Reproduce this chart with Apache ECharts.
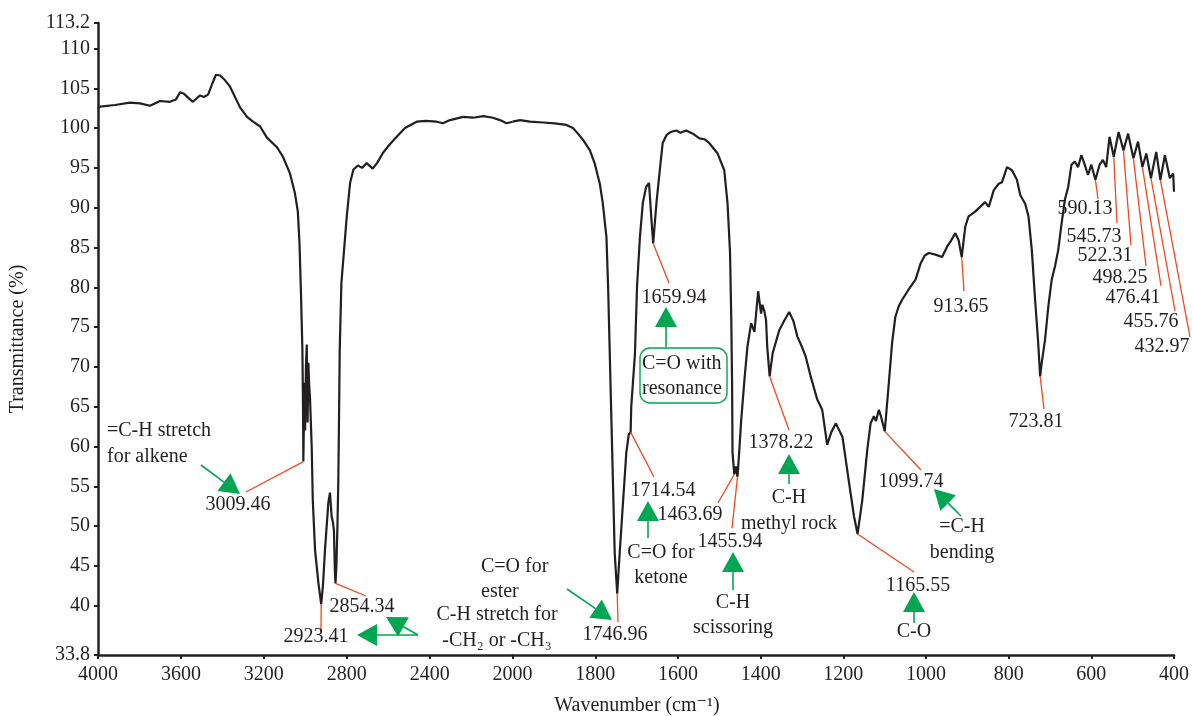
<!DOCTYPE html>
<html>
<head>
<meta charset="utf-8">
<script src="https://cdn.jsdelivr.net/npm/echarts@6/dist/echarts.min.js"></script>
<style>
html,body{margin:0;padding:0;background:#fff;}
#main{width:1192px;height:716px;}
</style>
</head>
<body>
<div id="main"></div>
<script>
// ---------------- DATA ----------------
const wavenumber = [
4000,3990,3918,3846,3797,3749,3701,3653,3624,3604,3585,3556,3542,3508,3489,3469,3450,3431,3411,3387,3363,3315,3281,3252,3218,3185,3137,3108,3074,3050,3036,3028,3021,3014,3011,3009.46,3004,3001,2997,2993,2989,2985,2982,2977,2969,2964,2953,2937,2923.41,2915,2905,2889,2881,2873,2867,2862,2857,2854.34,2850,2845,2841,2838,2834,2826,2813,2800,2784,2768,2746,2726,2704,2675,2654,2625,2591,2559,2519,2463,2418,2366,2336,2302,2238,2191,2141,2095,2061,2029,2000,
1982,1958,1926,1898,1870,1854,1842,1828,1813,1801,1794,1789,1782,1773,1769,1765,1761,1757,1753,1746.96,1741,1733,1725,1719,1714.54,1713,1704,1699,1692,1685,1677,1670,1664,1659.94,1652,1644,1637,1628,1618,1604,1594,1580,1564,1548,1536,1524,1504,1488,1480,1474,1471,1469,1468,1463.69,1460,1455.94,1451,1447,1439,1432,1423,1415,1406,1399,1396,1391,1387,1384,1378.22,1371,1355,1343,1331,1321,1311,1300,1291,1279,1263,1251,1239,1229,1218,1202,1186,1174,1165.55,1154,1142,1134,1126,1121,1114,1109,1099.74,1090,1082,1074,1066,1058,1041,1025,1013,1003,993,977,961,949,940,929,921,913.65,905,897,881,869,857,848,836,824,816,804,792,780,772,760,752,744,736,729,723.81,720,712,704,696,688,680,672,664,656,648,640,632,624,616,608,600,590.13,580,572,564,556,545.73,534,522.31,511,498.25,487,476.41,467,455.76,443,432.97,422,410,402,400
];
const transmittance = [
102.5,102.7,102.9,103.2,103.1,102.8,103.4,103.3,103.6,104.5,104.3,103.6,103.3,104.1,103.9,104.2,105.5,106.7,106.6,106.0,105.2,102.6,101.4,100.8,100.2,98.8,97.6,96.4,94.3,91.8,89.5,85.5,79.3,72.1,65,58.1,68,62,70,72.8,63,70.5,68,65.9,59.8,53.3,47.0,42.9,40.2,42.5,47.0,52.9,54.2,51.2,50.5,49.5,44,42.8,45,50,55.4,62,72.1,80.5,84.7,88.9,93.1,94.8,95.3,95.0,95.6,94.9,95.6,96.9,98.0,98.9,100.0,100.8,100.9,100.8,100.6,101.0,101.4,101.3,101.5,101.3,101.0,100.6,100.8,
101.0,100.8,100.7,100.6,100.4,100.0,99.3,98.4,97.2,95.5,94.0,93.0,90.6,86.3,80.1,71.7,63.3,55.0,46.6,41.5,46.6,52.9,59.2,61.5,61.8,65.0,71.7,80.1,86.3,90.6,92.6,93.1,88.4,85.5,90.6,94.7,98.1,99.1,99.5,99.7,99.4,99.7,99.3,98.7,98.6,98.1,96.8,94.7,90.5,84.3,75.9,67.5,59.2,56.5,57.5,56.2,60,63.3,68.5,72.5,75.5,74.4,79.5,76.7,77.8,77.0,75.9,72.5,68.8,71.7,74.6,75.8,76.9,75.8,73.8,72.5,71.3,68.8,65.9,64.6,60.2,61.8,62.9,61.2,55.4,51.2,49.0,53.3,59.6,62.9,63.8,63.2,64.6,63.8,61.9,67.9,73.0,76.3,77.6,78.4,79.8,81.0,83.0,84.0,84.3,84.1,83.8,85.1,85.8,86.8,85.9,83.8,87.6,88.9,89.5,90.1,90.7,90.1,92.2,93.0,93.2,95.1,94.7,93.5,91.6,90.5,88.9,84.7,78.4,73.4,68.8,70.5,73.4,77.6,80.9,82.6,84.7,88.0,91.0,92.6,95.4,95.8,95.1,96.6,95.4,94.1,95.4,93.5,95.4,96.0,95.1,98.9,96.4,99.5,97.2,99.3,96.2,98.3,95.1,96.8,93.7,97.0,93.5,96.6,93.7,94.3,92.0
];
const xTicksHigh = [4000,3600,3200,2800,2400,2000];
const xTicksLow = [2000,1800,1600,1400,1200,1000,800,600,400];
const yTickValues = [33.8,40,45,50,55,60,65,70,75,80,85,90,95,100,105,110,113.2];

const peakWavenumbers = [3009.46,2923.41,2854.34,1746.96,1714.54,1659.94,1463.69,1455.94,1378.22,1165.55,1099.74,913.65,723.81,590.13,545.73,522.31,498.25,476.41,455.76,432.97];
const peakTransmittance = [58.1,40.2,42.8,41.5,61.8,85.5,56.5,56.2,68.8,49.0,61.9,83.8,68.8,93.5,96.4,97.2,96.2,95.1,93.7,93.5];
const peakLabels = ['3009.46','2923.41','2854.34','1746.96','1714.54','1659.94','1463.69','1455.94','1378.22','1165.55','1099.74','913.65','723.81','590.13','545.73','522.31','498.25','476.41','455.76','432.97'];

const assignmentTexts = [
  ['=C-H stretch','for alkene'],
  ['C-H stretch for','-CH\u2082 or -CH\u2083'],
  ['C=O for','ester'],
  ['C=O for','ketone'],
  ['C-H','scissoring'],
  ['C-H','methyl rock'],
  ['C-O'],
  ['=C-H','bending'],
  ['C=O with','resonance']
];

// ---------------- LAYOUT (pixels) ----------------
const peakLayout = [ // [leaderEndX, leaderEndY, labelX, labelY]
  [246,492,238,505],[321,632,316,637],[366,596,362,607],[618,622,615,635],
  [654,477,663,491],[669,283,674,298],[718,503,690,515],[732,528,730,542],
  [789,430,781,443],[914,572,918,586],[921,470,911,482],[964,291,961,307],
  [1044,409,1036,422],[1098,199,1085,209],[1117,223,1094,237],[1131,245,1105,256],
  [1146,266,1120,278],[1161,286,1133,298],[1175,311,1151,322],[1190,337,1162,347]
];
const assignmentLayout = [ // {x, align, ys, arrows:[[x0,y0,x1,y1]]}
  {x:107, align:'left', ys:[431,457], arrows:[[201,465,240,494]]},
  {x:497, align:'center', ys:[615,641], arrows:[[418,635,357,635],[418,635,386,617]]},
  {x:481, align:'left', ys:[567,592], arrows:[[567,589,612,620]]},
  {x:661, align:'center', ys:[553,578], arrows:[[648,538,648,501]]},
  {x:733, align:'center', ys:[603,628], arrows:[[733,590,733,552]]},
  {x:789, align:'center', ys:[498,524], arrows:[[789,484,789,454]]},
  {x:914, align:'center', ys:[632], arrows:[[914,623,914,592]]},
  {x:962, align:'center', ys:[527,553], arrows:[[961,516,934,489]]},
  {x:642, align:'left', ys:[364,389], arrows:[[666,347,666,307]], box:[640,348,87,55]}
];

const INK = '#231f20', RED = '#f2471f', GREEN = '#00a651';
const FONT = 'Liberation Serif, DejaVu Serif, serif';
const GL = 98, GT = 23, GB = 655, GR = 1176;
const splitX = GL + (GR - GL) * 5 / 13;

const highData = [], lowData = [];
wavenumber.forEach((w, i) => {
  if (w >= 2000) highData.push([w, transmittance[i]]);
  if (w <= 2000) lowData.push([w, transmittance[i]]);
});

const chart = echarts.init(document.getElementById('main'), null, {width:1192, height:716});

const axisLine = {show:true, lineStyle:{color:INK, width:2.5}};
const axisTick = {show:true, inside:false, length:4, lineStyle:{color:INK, width:2}};
const axisLabelBase = {color:INK, fontFamily:FONT, fontSize:20, margin:10, showMinLabel:true, showMaxLabel:true};

chart.setOption({
  animation:false,
  backgroundColor:'#fff',
  grid:[
    {left:GL, top:GT, width:splitX-GL, height:GB-GT},
    {left:splitX, top:GT, width:GR-splitX, height:GB-GT}
  ],
  xAxis:[
    {type:'value', gridIndex:0, min:2000, max:4000, interval:400, inverse:true,
     axisLine, axisTick, splitLine:{show:false},
     axisLabel:Object.assign({}, axisLabelBase, {formatter:v => (v === 2000 ? '' : String(v))})},
    {type:'value', gridIndex:1, min:400, max:2000, interval:200, inverse:true,
     axisLine, axisTick, splitLine:{show:false},
     axisLabel:Object.assign({}, axisLabelBase, {formatter:v => String(v)})}
  ],
  yAxis:[
    {type:'value', gridIndex:0, min:33.8, max:113.2, interval:5,
     axisLine, splitLine:{show:false},
     axisTick:Object.assign({}, axisTick, {customValues:yTickValues}),
     axisLabel:Object.assign({}, axisLabelBase, {margin:8, customValues:yTickValues, formatter:v => String(v)})},
    {type:'value', gridIndex:1, min:33.8, max:113.2, show:false, splitLine:{show:false}}
  ],
  series:[
    {type:'line', xAxisIndex:0, yAxisIndex:0, data:highData, showSymbol:false, clip:false,
     lineStyle:{color:INK, width:2.2}, itemStyle:{color:INK}},
    {type:'line', xAxisIndex:1, yAxisIndex:1, data:lowData, showSymbol:false, clip:false,
     lineStyle:{color:INK, width:2.2}, itemStyle:{color:INK}}
  ]
});

function txt(x, y, s, align, extra) {
  return Object.assign({type:'text', x:x, y:y, z:10,
    style:{text:s, fill:INK, font:'20px ' + FONT, align:align || 'center', verticalAlign:'middle',
           textAlign:align || 'center', textVerticalAlign:'middle'}}, extra || {});
}
function arrow(x0, y0, x1, y1) {
  const dx = x1 - x0, dy = y1 - y0, len = Math.sqrt(dx*dx + dy*dy);
  const ux = dx/len, uy = dy/len, L = Math.min(20, len*0.7), W = 11;
  const bx = x1 - ux*L, by = y1 - uy*L;
  return [
    {type:'line', z:9, shape:{x1:x0, y1:y0, x2:bx, y2:by}, style:{stroke:GREEN, lineWidth:1.6}},
    {type:'polygon', z:9, shape:{points:[[x1,y1],[bx - uy*W, by + ux*W],[bx + uy*W, by - ux*W]]}, style:{fill:GREEN}}
  ];
}

const g = [];
peakWavenumbers.forEach((w, i) => {
  const idx = w >= 2000 ? 0 : 1;
  const p = chart.convertToPixel({xAxisIndex:idx, yAxisIndex:idx}, [w, peakTransmittance[i]]);
  const L = peakLayout[i];
  g.push({type:'line', z:8, shape:{x1:p[0], y1:p[1], x2:L[0], y2:L[1]}, style:{stroke:RED, lineWidth:1.3}});
  g.push(txt(L[2], L[3], peakLabels[i]));
});
assignmentTexts.forEach((lines, i) => {
  const A = assignmentLayout[i];
  lines.forEach((s, k) => g.push(txt(A.x, A.ys[k], s, A.align)));
  A.arrows.forEach(a => arrow(a[0], a[1], a[2], a[3]).forEach(e => g.push(e)));
  if (A.box) g.push({type:'rect', z:9, shape:{x:A.box[0], y:A.box[1], width:A.box[2], height:A.box[3], r:10},
                      style:{fill:'none', stroke:GREEN, lineWidth:1.4}});
});
g.push(txt(18, (GT+GB)/2, 'Transmittance (%)', 'center', {rotation:Math.PI/2}));
g.push(txt((GL+GR)/2, 706, 'Wavenumber (cm\u207B\u00B9)', 'center'));

chart.setOption({graphic:{elements:g}});
</script>
</body>
</html>
